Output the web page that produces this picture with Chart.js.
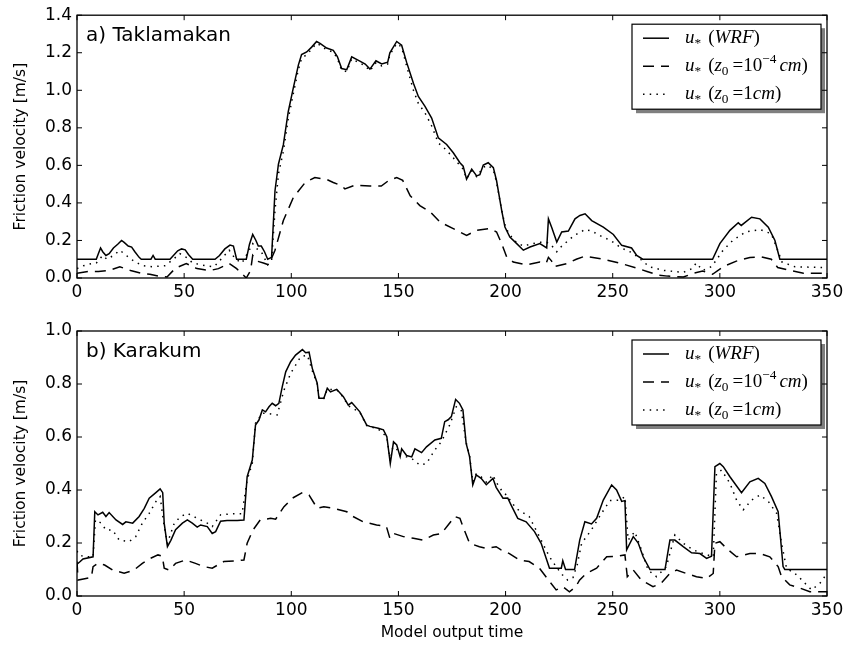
<!DOCTYPE html>
<html><head><meta charset="utf-8">
<script src="https://cdn.jsdelivr.net/npm/chart.js@4/dist/chart.umd.min.js"></script>
<style>
html,body{margin:0;padding:0;background:#fff;}
#wrap{position:relative;width:849px;height:645px;overflow:hidden;}
canvas{position:absolute;left:0;}
</style></head><body>
<div id="wrap">
<canvas id="c1" width="849" height="300" style="top:0"></canvas>
<canvas id="c2" width="849" height="345" style="top:300px"></canvas>
</div>
<script>
// ---------- DATA ----------
const xTicks = [0, 50, 100, 150, 200, 250, 300, 350];
const yTicksTop = [0, 0.2, 0.4, 0.6, 0.8, 1.0, 1.2, 1.4];
const yTicksBottom = [0, 0.2, 0.4, 0.6, 0.8, 1.0];
const panelTitles = ['a) Taklamakan', 'b) Karakum'];
const yAxisTitle = 'Friction velocity [m/s]';
const xAxisTitle = 'Model output time';
const seriesNames = ['u* (WRF)', 'u* (z0 =10-4 cm)', 'u* (z0 =1cm)'];

// a) Taklamakan  [time, value]
const takWRF = [[0,0.10],[9,0.10],[10,0.13],[11,0.16],[12,0.14],[13.5,0.12],[15,0.13],[17,0.16],[19,0.18],[20.8,0.20],[22,0.19],[23.9,0.17],[25.5,0.165],[27,0.14],[29,0.11],[30,0.10],[34.5,0.10],[35.5,0.12],[36.5,0.10],[43.4,0.10],[45,0.12],[47,0.145],[48.8,0.155],[50.5,0.15],[52,0.125],[54,0.10],[64.4,0.10],[66.5,0.12],[69,0.155],[71.4,0.175],[73,0.17],[74.5,0.10],[79,0.10],[80.5,0.18],[82,0.232],[83.5,0.20],[84.6,0.17],[86,0.17],[87.5,0.14],[89,0.10],[90.8,0.11],[92.4,0.465],[94,0.606],[96.3,0.71],[98.6,0.887],[100.9,1.01],[103.3,1.134],[104.8,1.19],[107.2,1.204],[109.5,1.23],[111.8,1.26],[113.4,1.25],[116.5,1.225],[119.6,1.213],[121.5,1.18],[123.5,1.116],[125.9,1.11],[128.2,1.178],[132,1.155],[134.5,1.14],[136.7,1.113],[139.5,1.157],[142.2,1.14],[145,1.15],[146,1.20],[149.2,1.26],[151.5,1.24],[153.8,1.15],[157,1.037],[159.3,0.967],[162.4,0.914],[165.5,0.852],[168.6,0.747],[172.5,0.711],[175.6,0.667],[178.7,0.614],[180.2,0.596],[181.8,0.527],[184.2,0.58],[186.5,0.544],[188,0.55],[189.6,0.602],[191.9,0.614],[194.3,0.588],[195.8,0.518],[198.2,0.359],[199.7,0.271],[202,0.218],[205.2,0.183],[208.3,0.148],[211.4,0.165],[216,0.183],[219.2,0.16],[220,0.315],[221.5,0.27],[223.9,0.192],[226.2,0.245],[229.3,0.25],[232.4,0.315],[234.7,0.333],[237.1,0.342],[240.2,0.306],[245.6,0.271],[250.3,0.232],[254.2,0.174],[258.8,0.16],[261.2,0.12],[264,0.10],[296.6,0.10],[300,0.183],[304.7,0.254],[308.6,0.294],[310,0.28],[314.8,0.324],[318.7,0.315],[322.6,0.271],[325.7,0.2],[328,0.10],[350,0.10]];
const takZ4 = [[0,0.025],[5.5,0.035],[10,0.035],[15,0.04],[20,0.06],[25,0.04],[30,0.025],[34,0.02],[38,0.01],[42,0.005],[46,0.053],[51,0.077],[56,0.05],[62,0.04],[66,0.05],[71,0.077],[74.5,0.05],[79,0.0],[81,0.04],[82,0.12],[84,0.09],[87,0.08],[89.5,0.07],[92.4,0.148],[96.3,0.306],[101,0.43],[106.5,0.509],[111,0.535],[116.5,0.525],[119.6,0.509],[123.5,0.491],[125,0.475],[130,0.495],[136.7,0.49],[142,0.49],[145.3,0.518],[149.2,0.535],[152,0.52],[155.5,0.438],[160,0.386],[165,0.35],[169.5,0.297],[175.6,0.263],[181.8,0.227],[186.5,0.254],[192.7,0.263],[195.8,0.245],[198.2,0.183],[200.5,0.113],[203.6,0.085],[209.7,0.07],[216,0.085],[219,0.08],[220,0.11],[221.5,0.09],[222.6,0.06],[228.6,0.077],[233,0.10],[237,0.116],[245.6,0.10],[254,0.077],[261,0.053],[266,0.035],[271,0.016],[275.6,0.01],[283,0.005],[287.6,0.025],[292,0.037],[296.6,0.02],[301.5,0.06],[307.7,0.09],[314,0.109],[319.5,0.112],[324,0.10],[327,0.056],[333,0.04],[339,0.025],[350,0.025]];
const takZ1 = [[0,0.05],[3,0.065],[6,0.075],[9,0.08],[12,0.12],[14,0.10],[17,0.12],[20,0.148],[23,0.12],[27,0.086],[31,0.065],[35,0.06],[41,0.065],[45,0.10],[48,0.13],[51,0.11],[54,0.08],[60,0.065],[64,0.06],[68,0.11],[71,0.148],[74,0.10],[77,0.08],[80,0.14],[82,0.183],[84,0.155],[86,0.14],[89,0.07],[90.8,0.09],[92.4,0.36],[94,0.553],[96.3,0.675],[98.6,0.85],[100.9,0.98],[103.3,1.11],[104.8,1.17],[107.2,1.19],[109.5,1.22],[111.8,1.25],[113.4,1.24],[116.5,1.215],[119.6,1.203],[121.5,1.17],[123.5,1.106],[125.9,1.10],[128.2,1.168],[132,1.145],[134.5,1.13],[136.7,1.103],[139.5,1.147],[142.2,1.13],[145,1.14],[146,1.19],[149.2,1.25],[151.5,1.23],[153.8,1.13],[157,1.00],[159.3,0.93],[162.4,0.88],[165.5,0.81],[168.6,0.72],[172.5,0.68],[175.6,0.64],[178.7,0.60],[180.2,0.58],[181.8,0.53],[184.2,0.57],[186.5,0.54],[189.6,0.59],[191.9,0.60],[194.3,0.575],[195.8,0.51],[198.2,0.36],[200,0.27],[202,0.23],[205,0.19],[208.3,0.17],[211.4,0.18],[216,0.19],[219.2,0.19],[221,0.18],[223.9,0.14],[226.2,0.17],[229.3,0.20],[232.4,0.23],[234.5,0.24],[237,0.259],[240.2,0.25],[245,0.22],[249,0.20],[254,0.16],[259,0.135],[263,0.10],[267,0.06],[274,0.04],[283,0.03],[287,0.05],[289,0.08],[292,0.04],[296,0.06],[298,0.09],[301.5,0.148],[306,0.20],[312,0.245],[318.7,0.258],[324,0.236],[327,0.148],[329,0.085],[335,0.06],[350,0.055]];

// b) Karakum  [time, value]
const karWRF = [[0,0.12],[1.5,0.13],[2.8,0.14],[7.5,0.148],[8.3,0.318],[9.8,0.306],[12,0.316],[13.5,0.30],[15,0.315],[18.2,0.287],[21.3,0.27],[22.8,0.28],[26,0.275],[29,0.30],[31.4,0.331],[33.7,0.369],[36.8,0.39],[38.8,0.404],[40,0.39],[40.7,0.274],[42.2,0.186],[43.8,0.21],[46,0.25],[49.2,0.275],[51.5,0.287],[53.8,0.275],[56.1,0.26],[57.7,0.268],[60.8,0.262],[63.1,0.236],[64.7,0.243],[67,0.282],[70,0.285],[74.8,0.285],[77.9,0.287],[79.4,0.45],[81.8,0.513],[83.3,0.645],[84.9,0.664],[86.5,0.702],[88,0.695],[89.6,0.714],[91.1,0.727],[92.7,0.718],[94.2,0.727],[95.8,0.79],[97.4,0.846],[99.7,0.884],[102,0.909],[105.2,0.93],[106.7,0.918],[108.3,0.92],[109.8,0.859],[112.1,0.803],[112.9,0.746],[115.2,0.746],[116.8,0.784],[118.3,0.77],[121.2,0.78],[124.3,0.752],[126.6,0.72],[128.2,0.73],[132,0.695],[135.2,0.645],[136.7,0.64],[140.6,0.633],[143,0.627],[144.6,0.601],[146.2,0.50],[147.7,0.582],[149.2,0.57],[150.8,0.526],[151.5,0.555],[153.8,0.53],[156.2,0.525],[157.7,0.555],[160.8,0.541],[163.1,0.563],[167,0.589],[170,0.595],[171.6,0.658],[173.2,0.665],[174.7,0.677],[176.7,0.742],[178.5,0.727],[180.1,0.702],[181.6,0.576],[183.2,0.526],[184.7,0.419],[186.3,0.457],[188.6,0.444],[191,0.42],[194.1,0.444],[195.6,0.41],[198.8,0.369],[201,0.37],[202.6,0.343],[205.7,0.293],[209.6,0.28],[213.5,0.243],[216.6,0.199],[220.5,0.105],[226,0.105],[226.7,0.133],[228,0.10],[232.2,0.10],[234.6,0.211],[237,0.28],[240.1,0.272],[242.5,0.293],[245.6,0.362],[249.5,0.419],[251.8,0.40],[254.2,0.357],[255.7,0.36],[256.5,0.174],[259.6,0.224],[261.9,0.20],[264.2,0.148],[267.4,0.10],[274.4,0.10],[276.7,0.211],[279,0.211],[282.9,0.186],[286.8,0.163],[290.7,0.16],[293.8,0.142],[296.1,0.15],[297.7,0.488],[300,0.50],[301.6,0.488],[304.7,0.45],[310.1,0.39],[314,0.431],[317.9,0.444],[321,0.425],[324.1,0.375],[327.2,0.318],[329.5,0.111],[330.3,0.10],[350,0.10]];
const karZ4 = [[0,0.13],[0.5,0.06],[3.6,0.065],[6.7,0.07],[7.5,0.111],[9.8,0.123],[12.9,0.117],[16.6,0.098],[22,0.086],[26.6,0.098],[30.5,0.123],[34.3,0.142],[37.8,0.155],[39.8,0.15],[40.7,0.105],[43,0.098],[46,0.123],[50.7,0.136],[55.3,0.123],[59.2,0.111],[63.1,0.105],[68.5,0.13],[74.8,0.133],[77.9,0.136],[79.4,0.199],[82.1,0.249],[85.5,0.287],[90.4,0.293],[92.7,0.29],[96.6,0.337],[100.5,0.369],[105.2,0.39],[108.3,0.381],[112.1,0.331],[115.2,0.337],[119.6,0.331],[125.9,0.318],[127.4,0.306],[133.6,0.28],[139.8,0.268],[144.4,0.262],[146,0.218],[147.7,0.236],[152.3,0.224],[157,0.218],[161.5,0.211],[166.3,0.23],[170.1,0.236],[173.2,0.268],[176.3,0.30],[178.7,0.293],[180.1,0.262],[183.2,0.199],[187.8,0.186],[191,0.18],[195.6,0.186],[197.9,0.174],[201.8,0.16],[206.4,0.136],[211,0.13],[215.8,0.105],[220.5,0.055],[223.6,0.023],[226.7,0.035],[229.8,0.016],[232.8,0.035],[234.5,0.06],[237.7,0.085],[242.5,0.105],[247.2,0.148],[251.8,0.15],[255.7,0.155],[256.8,0.073],[259.6,0.098],[263.4,0.06],[268.8,0.035],[272.6,0.048],[276.7,0.085],[279.8,0.098],[284.4,0.085],[289.1,0.073],[293.8,0.066],[296.9,0.085],[297.7,0.199],[300,0.205],[303.1,0.18],[307.8,0.148],[314,0.16],[318.7,0.16],[323.3,0.148],[327.2,0.111],[328.8,0.073],[332.6,0.042],[337.3,0.03],[342,0.016],[350,0.016]];
const karZ1 = [[0,0.17],[1,0.155],[3.6,0.148],[7.5,0.148],[8.6,0.287],[11.3,0.275],[13.5,0.249],[16.6,0.249],[19.7,0.211],[24.3,0.205],[27.4,0.224],[30.5,0.275],[33.7,0.312],[36.8,0.356],[38.8,0.375],[40.7,0.262],[42.2,0.199],[45.4,0.275],[48.4,0.30],[51.5,0.312],[56.1,0.293],[60.8,0.275],[63.1,0.262],[67,0.306],[71.6,0.31],[77,0.31],[79.4,0.438],[81.8,0.50],[83.3,0.652],[86.5,0.69],[90.4,0.687],[93.4,0.683],[96.6,0.777],[99.7,0.84],[104.4,0.903],[107.5,0.909],[109.8,0.85],[112.1,0.80],[112.9,0.745],[115.2,0.745],[116.8,0.78],[121.2,0.778],[124.3,0.75],[126.6,0.718],[132,0.693],[135.2,0.643],[140.6,0.63],[144.6,0.60],[146.2,0.51],[147.7,0.578],[150.8,0.53],[153.8,0.525],[156.2,0.519],[160,0.494],[163.1,0.50],[167,0.551],[170,0.582],[173.9,0.645],[177,0.714],[179.3,0.702],[181.6,0.58],[183.2,0.53],[184.7,0.43],[186.3,0.46],[188.6,0.45],[191,0.43],[194.1,0.457],[195.6,0.43],[198.8,0.39],[200.3,0.382],[205,0.33],[211,0.30],[215.8,0.224],[220.5,0.148],[223.6,0.11],[226.5,0.08],[229,0.06],[231.5,0.07],[233.5,0.12],[235.5,0.199],[240,0.249],[244.8,0.312],[248.7,0.36],[253.3,0.362],[255.7,0.375],[257.2,0.211],[260.3,0.243],[263.4,0.174],[266.5,0.098],[270.4,0.073],[275,0.11],[279,0.23],[282.9,0.199],[287.6,0.174],[292.2,0.16],[296.9,0.148],[298.4,0.463],[300.8,0.475],[304.7,0.425],[307.8,0.362],[310.9,0.325],[314.8,0.362],[318.7,0.381],[322.6,0.357],[326.5,0.312],[328.8,0.199],[331.1,0.105],[335.8,0.08],[338.9,0.055],[342.8,0.023],[346.7,0.048],[350,0.085]];

// legend labels as math pieces: [text, kind, gapBefore]
const legendRows = [
  [['u','i'],['*','sub'],['(','r',7],['WRF','i'],[')','r']],
  [['u','i'],['*','sub'],['(','r',7],['z','i'],['0','sub'],['=','r',4],['10','r'],['\u22124','sup'],['cm','i',3],[')','r']],
  [['u','i'],['*','sub'],['(','r',7],['z','i'],['0','sub'],['=','r',4],['1','r'],['cm','i'],[')','r']]
];

// ---------- DRAWING ----------
const FONT = '"DejaVu Sans", sans-serif';
const pts = a => a.map(p => ({x: p[0], y: p[1]}));
const DASH = [11, 7];
const DOT = [1.5, 5.2];

function drawMath(ctx, x, y, parts, size) {
  parts.forEach(([t, k, gap]) => {
    x += gap || 0;
    let fs = size, dy = 0, style = 'italic ';
    if (k === 'r') style = '';
    if (k === 'sub') { fs = size * 0.7; dy = size * 0.22; style = ''; }
    if (k === 'sup') { fs = size * 0.7; dy = -size * 0.42; style = ''; }
    ctx.font = style + fs + 'px "Liberation Serif", serif';
    ctx.fillText(t, x, y + dy);
    x += ctx.measureText(t).width;
  });
}

const decoPlugin = {
  id: 'deco',
  afterDatasetsDraw(chart, args, opts) {
    const {ctx, chartArea: a, scales: {x, y}} = chart;
    ctx.save();
    ctx.strokeStyle = '#000';
    ctx.lineWidth = 1.3;
    ctx.setLineDash([]);
    ctx.strokeRect(a.left, a.top, a.right - a.left, a.bottom - a.top);
    ctx.lineWidth = 1;
    ctx.beginPath();
    xTicks.forEach(v => {
      const p = x.getPixelForValue(v);
      ctx.moveTo(p, a.bottom); ctx.lineTo(p, a.bottom - 5);
      ctx.moveTo(p, a.top); ctx.lineTo(p, a.top + 5);
    });
    opts.yTicks.forEach(v => {
      const p = y.getPixelForValue(v);
      ctx.moveTo(a.left, p); ctx.lineTo(a.left + 5, p);
      ctx.moveTo(a.right, p); ctx.lineTo(a.right - 5, p);
    });
    ctx.stroke();
    // panel title
    ctx.fillStyle = '#000';
    ctx.font = '20px ' + FONT;
    ctx.textBaseline = 'alphabetic';
    ctx.fillText(opts.title, a.left + 9, a.top + 26);
    // legend
    const bx = a.right - 195, by = a.top + 9, bw = 189, bh = 85;
    ctx.fillStyle = 'rgba(0,0,0,0.5)';
    ctx.fillRect(bx + 4, by + 4, bw, bh);
    ctx.fillStyle = '#fff';
    ctx.fillRect(bx, by, bw, bh);
    ctx.lineWidth = 1.2;
    ctx.strokeRect(bx, by, bw, bh);
    const dashes = [[], DASH, DOT];
    const rowsY = [14, 42, 70];
    rowsY.forEach((ry, i) => {
      const yy = by + ry;
      ctx.setLineDash(dashes[i]);
      ctx.lineWidth = 1.5;
      ctx.beginPath();
      ctx.moveTo(bx + 11, yy); ctx.lineTo(bx + 37, yy);
      ctx.stroke();
      ctx.setLineDash([]);
      ctx.fillStyle = '#000';
      drawMath(ctx, bx + 53, yy + 5, legendRows[i], 19);
    });
    ctx.restore();
  }
};

function makeChart(id, series, yMax, yTicks, title, padTop, xAxisH, xTitle) {
  return new Chart(document.getElementById(id), {
    type: 'line',
    data: {
      datasets: [
        {label: seriesNames[0], data: pts(series[0]), borderColor: '#000', borderWidth: 1.5, pointRadius: 0, fill: false, tension: 0},
        {label: seriesNames[1], data: pts(series[1]), borderColor: '#000', borderWidth: 1.5, borderDash: DASH, pointRadius: 0, fill: false, tension: 0},
        {label: seriesNames[2], data: pts(series[2]), borderColor: '#000', borderWidth: 1.5, borderDash: DOT, pointRadius: 0, fill: false, tension: 0}
      ]
    },
    options: {
      responsive: false, animation: false, devicePixelRatio: 1,
      layout: {padding: {top: padTop, right: 22, left: 0, bottom: 0}},
      plugins: {legend: {display: false}, tooltip: {enabled: false},
        deco: {title: title, yTicks: yTicks}},
      scales: {
        x: {
          type: 'linear', min: 0, max: 350,
          afterBuildTicks: s => { s.ticks = xTicks.map(v => ({value: v})); },
          afterFit: s => { s.height = xAxisH; },
          grid: {display: false, drawTicks: false},
          border: {display: false},
          ticks: {color: '#000', font: {family: FONT, size: 17}, padding: 4, maxRotation: 0, autoSkip: false, callback: v => String(v)},
          title: {display: !!xTitle, text: xTitle || '', color: '#000', font: {family: FONT, size: 15.5}, padding: {top: 0, bottom: 3}}
        },
        y: {
          type: 'linear', min: 0, max: yMax,
          afterBuildTicks: s => { s.ticks = yTicks.map(v => ({value: v})); },
          afterFit: s => { s.width = 77; },
          grid: {display: false, drawTicks: false},
          border: {display: false},
          ticks: {color: '#000', font: {family: FONT, size: 17}, padding: 5, autoSkip: false, callback: v => v.toFixed(1)},
          title: {display: true, text: yAxisTitle, color: '#000', font: {family: FONT, size: 15.5}, padding: {top: 12, bottom: 0}}
        }
      }
    },
    plugins: [decoPlugin]
  });
}

makeChart('c1', [takWRF, takZ4, takZ1], 1.4, yTicksTop, panelTitles[0], 13, 22, null);
makeChart('c2', [karWRF, karZ4, karZ1], 1.0, yTicksBottom, panelTitles[1], 31, 49, xAxisTitle);
</script>
</body></html>
